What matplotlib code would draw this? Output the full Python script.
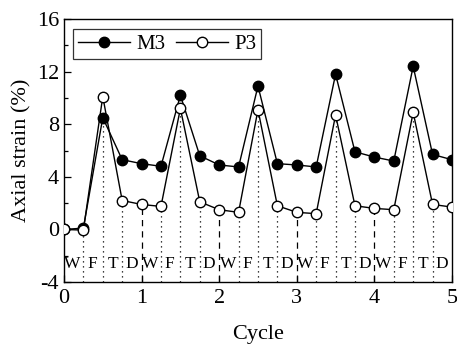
import numpy as np
import matplotlib.pyplot as plt
from matplotlib.ticker import MultipleLocator

plt.rcParams['font.family'] = ['Liberation Serif', 'DejaVu Serif']
plt.rcParams['axes.unicode_minus'] = False

# data
cycle = [0, 0.25, 0.5, 0.75, 1.0, 1.25, 1.5, 1.75, 2.0, 2.25, 2.5,
         2.75, 3.0, 3.25, 3.5, 3.75, 4.0, 4.25, 4.5, 4.75, 5.0]
m3 = [0.0, 0.1, 8.5, 5.3, 5.0, 4.8, 10.2, 5.6, 4.9, 4.75, 10.9,
      5.0, 4.9, 4.75, 11.8, 5.9, 5.5, 5.2, 12.4, 5.7, 5.3]
p3 = [0.0, -0.05, 10.1, 2.2, 1.9, 1.75, 9.2, 2.1, 1.5, 1.3, 9.1,
      1.8, 1.3, 1.2, 8.7, 1.8, 1.6, 1.5, 8.9, 1.9, 1.7]
phases = ['W', 'F', 'T', 'D']
phase_offsets = [0.11, 0.36, 0.63, 0.87]

fig = plt.figure(figsize=(4.57, 3.44), dpi=100)
ax = fig.add_axes([0.14, 0.18, 0.849, 0.765])

ymin = -4
# vertical guide lines from lowest marker to the bottom
for x, a, b in zip(cycle[1:-1], m3[1:-1], p3[1:-1]):
    ls = (0, (5, 4)) if float(x).is_integer() else (0, (1, 3))
    ax.plot([x, x], [ymin, min(a, b)], color='black', lw=0.9, ls=ls, zorder=1)

ax.plot(cycle, m3, color='black', lw=1.0, marker='o', ms=7.5,
        mfc='black', mec='black', label='M3', zorder=3)
ax.plot(cycle, p3, color='black', lw=1.0, marker='o', ms=7.5,
        mfc='white', mec='black', label='P3', zorder=3)

for c in range(5):
    for lab, off in zip(phases, phase_offsets):
        ax.text(c + off, -2.6, lab, ha='center', va='center', fontsize=12.5)

ax.set_xlim(0, 5)
ax.set_ylim(-4, 16)
ax.xaxis.set_major_locator(MultipleLocator(1))
ax.yaxis.set_major_locator(MultipleLocator(4))
ax.yaxis.set_minor_locator(MultipleLocator(2))
ax.tick_params(direction='in', labelsize=16, length=5, width=0.9)
ax.tick_params(which='minor', direction='in', length=3, width=0.9)
ax.tick_params(axis='x', pad=5)
for s in ax.spines.values():
    s.set_linewidth(1.0)

ax.set_xlabel('Cycle', fontsize=16, labelpad=12)
ax.set_ylabel('Axial strain (%)', fontsize=16, labelpad=4)

leg = ax.legend(loc='upper left', ncol=2, fontsize=15, frameon=True,
                fancybox=False, edgecolor='black', handlelength=2.5,
                handletextpad=0.3, columnspacing=0.5, borderpad=0.25,
                bbox_to_anchor=(0.022, 0.96), borderaxespad=0)
leg.get_frame().set_linewidth(0.9)

plt.savefig('out.png', dpi=100)
